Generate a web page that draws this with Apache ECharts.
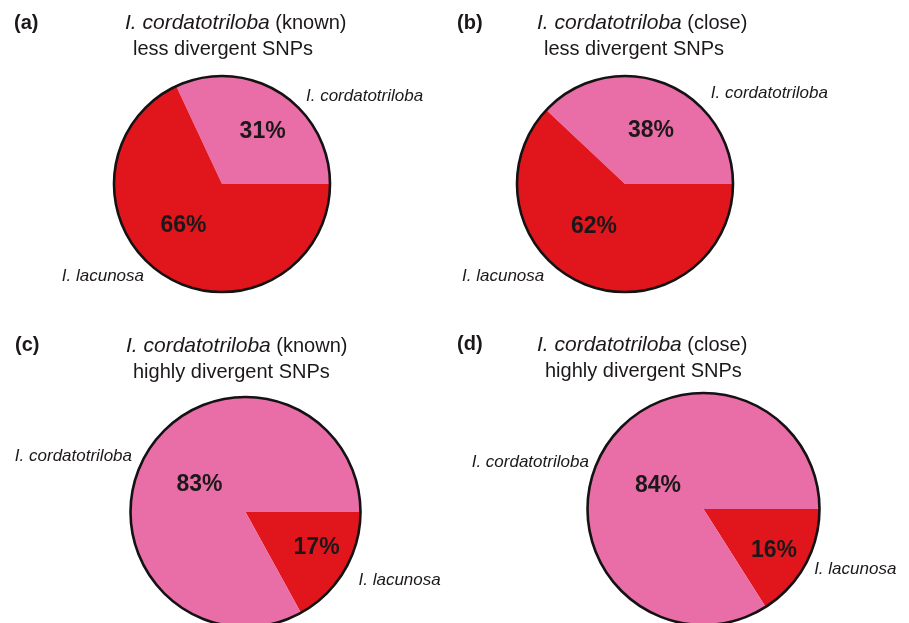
<!DOCTYPE html>
<html>
<head>
<meta charset="utf-8">
<script src="https://cdn.jsdelivr.net/npm/echarts@6/dist/echarts.min.js"></script>
<style>
  html, body { margin: 0; padding: 0; background: #ffffff; }
  #chart { width: 909px; height: 623px; }
</style>
</head>
<body>
<div id="chart"></div>
<script>
// ---- data ----
const panelLetters = ['(a)', '(b)', '(c)', '(d)'];
const titleSpecies = 'I. cordatotriloba';
const titleQualifiers = ['(known)', '(close)', '(known)', '(close)'];
const snpClasses = ['less divergent SNPs', 'less divergent SNPs', 'highly divergent SNPs', 'highly divergent SNPs'];
const speciesNames = ['I. cordatotriloba', 'I. lacunosa'];
const cordatotrilobaPct = [31, 38, 83, 84];
const lacunosaPct = [66, 62, 17, 16];

// ---- layout & style ----
const FONT = '"Liberation Sans", Arial, Helvetica, sans-serif';
const TEXT = '#1c1819';
const speciesColors = ['#E96DA7', '#E1161C'];

const panels = [
  { center: [222, 184], radius: 108, clockwise: false, order: [0, 1],
    letter: [14, 13], line1: [125, 13], line2: [133, 39],
    pctShift: [[10, -4], [-8, -6]], nameShift: [[21, 3], [-15, 1]] },
  { center: [625, 184], radius: 108, clockwise: false, order: [0, 1],
    letter: [457, 13], line1: [537, 13], line2: [544, 39],
    pctShift: [[5, 0], [-10, -10]], nameShift: [[41, 10], [-36, -8]] },
  { center: [245.5, 512], radius: 115, clockwise: true, order: [1, 0],
    letter: [15, 335], line1: [126, 336], line2: [133, 362],
    pctShift: [[6, 3], [19, 5]], nameShift: [[-9.5, 3], [9, 10]] },
  { center: [703.5, 509], radius: 116, clockwise: true, order: [1, 0],
    letter: [457, 334], line1: [537, 335], line2: [545, 361],
    pctShift: [[8, 6], [17, 12]], nameShift: [[-8, 9.5], [4, 4]] }
];

const titles = [];
const series = [];

panels.forEach((p, i) => {
  const values = [cordatotrilobaPct[i], lacunosaPct[i]];
  const slices = p.order.map(s => ({
    name: speciesNames[s],
    value: values[s],
    itemStyle: { color: speciesColors[s] }
  }));
  const shiftFor = (table) => (params) => {
    const s = p.order[params.dataIndex];
    return { dx: table[s][0], dy: table[s][1] };
  };

  titles.push({
    text: panelLetters[i], left: p.letter[0], top: p.letter[1], padding: 0,
    textStyle: { fontFamily: FONT, fontSize: 20, fontWeight: 'bold', color: TEXT, lineHeight: 20 }
  });
  titles.push({
    text: '{i|' + titleSpecies + '} ' + titleQualifiers[i],
    left: p.line1[0], top: p.line1[1], padding: 0,
    textStyle: {
      fontFamily: FONT, fontSize: 20, fontWeight: 'normal', color: TEXT, lineHeight: 20,
      rich: { i: { fontFamily: FONT, fontSize: 21, fontStyle: 'italic', color: TEXT, lineHeight: 20 } }
    }
  });
  titles.push({
    text: snpClasses[i], left: p.line2[0], top: p.line2[1], padding: 0,
    textStyle: { fontFamily: FONT, fontSize: 20, fontWeight: 'normal', color: TEXT, lineHeight: 20 }
  });

  const common = {
    type: 'pie', center: p.center, radius: p.radius, startAngle: 0,
    clockwise: p.clockwise, avoidLabelOverlap: false, silent: true,
    emphasis: { disabled: true }, animation: false
  };

  // filled slices with percentage labels
  series.push(Object.assign({}, common, {
    z: 2,
    data: slices,
    itemStyle: { borderWidth: 0 },
    label: {
      show: true, position: 'inside', formatter: '{c}%',
      fontFamily: FONT, fontSize: 23, fontWeight: 'bold', color: TEXT
    },
    labelLine: { show: false },
    labelLayout: shiftFor(p.pctShift)
  }));

  // species names outside the slices
  series.push(Object.assign({}, common, {
    z: 1,
    data: slices.map(d => ({ name: d.name, value: d.value })),
    itemStyle: { color: 'rgba(0,0,0,0)', borderWidth: 0 },
    label: {
      show: true, position: 'outside', formatter: '{b}',
      fontFamily: FONT, fontSize: 17, fontStyle: 'italic', color: TEXT
    },
    labelLine: { show: false, length: 0, length2: 0 },
    labelLayout: shiftFor(p.nameShift)
  }));

  // black rim around the whole pie
  series.push(Object.assign({}, common, {
    z: 3,
    data: [{ name: 'rim', value: 1 }],
    itemStyle: { color: 'rgba(0,0,0,0)', borderColor: '#151213', borderWidth: 2.6 },
    label: { show: false },
    labelLine: { show: false }
  }));
});

const chart = echarts.init(document.getElementById('chart'), null, { renderer: 'canvas' });
chart.setOption({
  backgroundColor: '#ffffff',
  animation: false,
  title: titles,
  series: series
});
</script>
</body>
</html>
